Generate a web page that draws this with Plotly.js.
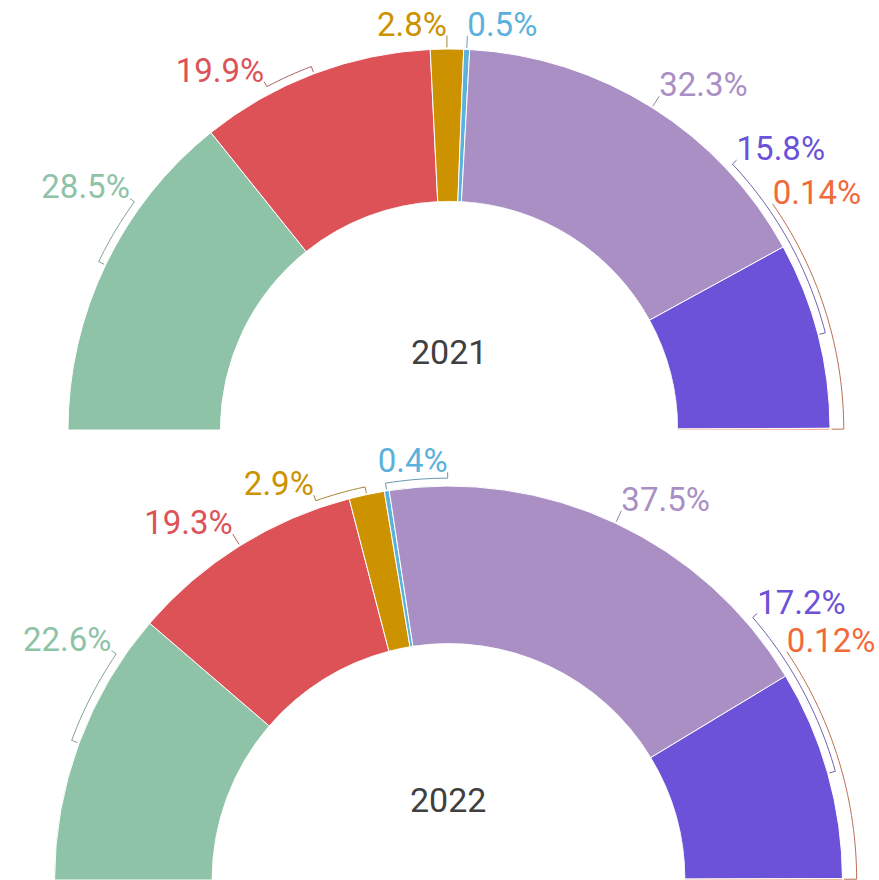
<!DOCTYPE html>
<html>
<head>
<meta charset="utf-8">
<script src="https://cdn.plot.ly/plotly-3.0.1.min.js"></script>
<style>
  html, body { margin: 0; padding: 0; background: #fff; }
  #chart { width: 879px; height: 880px; }
</style>
</head>
<body>
<div id="chart"></div>
<script>
//#region data
const years = ['2021', '2022'];
const colors = ['#8ec3a8', '#dc5257', '#cc9200', '#5ab1dc', '#a98fc4', '#6b52d8', '#f06a3a'];
const shares2021 = [28.5, 19.9, 2.8, 0.5, 32.3, 15.8, 0.14];
const shares2022 = [22.6, 19.3, 2.9, 0.4, 37.5, 17.2, 0.12];
//#endregion

//#region label layout
// angular nudge of each label away from its slice centre (deg, clockwise)
const nudge2021 = [10.3, -7.2, 0, 0, 0, -28.7, -34.8];
const nudge2022 = [13.9, 0, -7.3, 8.9, 0, -25.1, -33.9];
const bracketLevel = [0, 0, 0, 0, 0, 0, 1];
const INNER = 0.6;   // inner radius of the ring / outer radius of the ring
const OUTER = 1.06;  // polar frame radius / outer radius of the ring (room for brackets)
const FONT = 'Roboto, sans-serif';
const LABEL_SIZE = 33;
const W = 879, H = 880;
const domainTop = { x: [0.05131, 0.97031], y: [0.51136, 0.97034] };
const domainBottom = { x: [0.03515, 0.98532], y: [0, 0.47455] };
//#endregion

function mix(hex, other, t) {
    const a = parseInt(hex.slice(1), 16), b = parseInt(other.slice(1), 16);
    const ch = s => Math.round(((a >> s) & 255) * (1 - t) + ((b >> s) & 255) * t);
    return `rgb(${ch(16)},${ch(8)},${ch(0)})`;
}

// fraction of ring outer radius -> radial axis value (ring spans 0..1)
const toR = f => (f - INNER) / (1 - INNER);

function buildTraces(shares, nudge, subplot, domain) {
    const ringPx = (domain.x[1] - domain.x[0]) * W / 2 / OUTER;
    const total = shares.reduce((a, b) => a + b, 0);
    const spans = shares.map(v => v / total * 180);
    let cum = 0;
    const centers = spans.map(s => { const c = cum + s / 2; cum += s; return c; });

    const traces = [{
        type: 'barpolar', subplot: subplot,
        r: shares.map(() => 1), theta: centers, width: spans,
        marker: { color: colors, line: { color: '#ffffff', width: 1 } },
        hoverinfo: 'skip'
    }];

    const labelTheta = [], labelR = [], labelPos = [];
    shares.forEach((v, i) => {
        const tc = centers[i], tl = tc + nudge[i];
        const rb = 1.02 + 0.016 * bracketLevel[i];
        const rl = bracketLevel[i] ? rb : rb + 0.015;
        const th = [tc, tc], rr = [toR(1.004), toR(rb)];
        const n = Math.max(1, Math.ceil(Math.abs(tl - tc)));
        for (let k = 1; k <= n; k++) { th.push(tc + (tl - tc) * k / n); rr.push(toR(rb)); }
        th.push(tl); rr.push(toR(rl));
        traces.push({
            type: 'scatterpolar', subplot: subplot, mode: 'lines', theta: th, r: rr,
            line: { color: mix(colors[i], '#777777', 0.45), width: 1 },
            cliponaxis: false, hoverinfo: 'skip'
        });
        // drop the text anchor so the baseline sits on the leader end
        const a = (180 - tl) * Math.PI / 180;
        const x = rl * Math.cos(a), y = rl * Math.sin(a) - 0.25 * LABEL_SIZE / ringPx;
        labelTheta.push(180 - Math.atan2(y, x) * 180 / Math.PI);
        labelR.push(toR(Math.hypot(x, y)));
        labelPos.push(tl <= 90 ? 'top left' : 'top right');
    });

    traces.push({
        type: 'scatterpolar', subplot: subplot, mode: 'text',
        theta: labelTheta, r: labelR,
        text: shares.map(v => v + '%'),
        textposition: labelPos,
        textfont: { family: FONT, size: LABEL_SIZE, color: colors },
        cliponaxis: false, hoverinfo: 'skip'
    });
    return traces;
}

const polarBase = {
    sector: [0, 180], hole: INNER / OUTER, bgcolor: 'rgba(0,0,0,0)',
    radialaxis: { visible: false, range: [0, toR(OUTER)] },
    angularaxis: { visible: false, rotation: 180, direction: 'clockwise' }
};

const layout = {
    width: W, height: H,
    margin: { l: 0, r: 0, t: 0, b: 0 },
    paper_bgcolor: '#ffffff',
    showlegend: false,
    font: { family: FONT },
    polar: { ...polarBase, domain: domainTop },
    polar2: { ...polarBase, domain: domainBottom },
    annotations: [
        { text: years[0], x: 0.5108, y: 0.6 },
        { text: years[1], x: 0.5102, y: 0.0909 }
    ].map(a => ({ ...a, xref: 'paper', yref: 'paper', xanchor: 'center', yanchor: 'middle',
        showarrow: false, font: { family: FONT, size: 34, color: '#404040' } }))
};

const data = [
    ...buildTraces(shares2021, nudge2021, 'polar', domainTop),
    ...buildTraces(shares2022, nudge2022, 'polar2', domainBottom)
];

Plotly.newPlot('chart', data, layout, { displayModeBar: false, staticPlot: true });
</script>
</body>
</html>
